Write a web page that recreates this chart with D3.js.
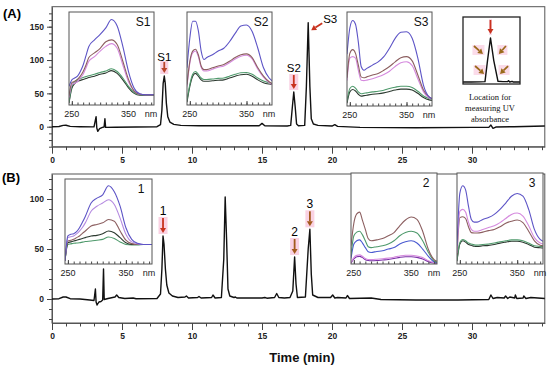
<!DOCTYPE html>
<html>
<head>
<meta charset="utf-8">
<script src="https://cdn.jsdelivr.net/npm/d3@7"></script>
<style>
  body { margin: 0; background: #fff; }
  svg { display: block; }
  text { font-family: "Liberation Sans", Arial, sans-serif; }
  text.serif { font-family: "Liberation Serif", "DejaVu Serif", serif; }
</style>
</head>
<body>
<div id="chart"></div>
<script>
// ---- chromatogram (A): standards, [time min, mAU]
var chromA = [
  [0,0],[0.5,0.3],[0.8,2],[1.0,2.2],[1.3,0.5],[2.0,0],[3.0,-0.3],[3.15,15],[3.2,-2],[3.27,-7],[3.4,-3],[3.6,-1],
  [3.72,-0.5],[3.78,12],[3.83,-1],[4.5,-0.8],[6,-0.5],[7.5,0],[7.75,3],[7.85,25],[7.94,65],[8.02,76],[8.09,65],
  [8.17,35],[8.27,15],[8.42,7],[8.7,3.5],[9.2,2],[10.5,1.5],[14.8,1.5],[15.0,5],[15.2,1.5],[16.8,1],[17.05,2],
  [17.17,30],[17.27,52],[17.37,30],[17.47,4],[17.6,1.5],[18.05,2],[18.17,60],[18.3,156],[18.42,60],[18.52,12],
  [18.67,4],[19,2],[20,1],[20.2,3],[20.4,0.5],[22,-1],[26,-1.5],[30,-1],[31.2,-1],[31.35,2.5],[31.5,-2.5],
  [31.7,-0.5],[33,0],[35.2,1]
];
// ---- chromatogram (B): sample
var chromB = [
  [0,0],[0.5,0.3],[0.8,2],[1.0,2],[1.3,0.3],[2,0],[2.7,-1],[3.0,-1.5],[3.1,10],[3.15,-3],[3.22,-6],[3.35,-3],
  [3.5,-2.5],[3.62,-1],[3.68,30],[3.73,-0.5],[4.0,0.5],[4.5,2],[4.62,4],[4.77,1.5],[5.2,0.5],[5.8,1],[6.0,0.3],
  [7.5,0.5],[7.75,5],[7.85,30],[7.93,63],[8.0,55],[8.1,30],[8.2,14],[8.35,6],[8.6,3],[9.0,1.5],[9.5,2],[9.6,3],
  [9.75,1],[10.4,1.5],[10.5,2.5],[10.65,1],[11.4,1.5],[11.5,4],[11.65,1],[12.1,1.5],[12.27,40],[12.37,102],
  [12.47,60],[12.57,10],[12.7,3],[13.0,1.5],[13.1,2],[13.2,1],[15,1],[15.2,1.5],[15.35,0.8],[15.9,1.5],
  [16.05,5.5],[16.2,1.5],[16.6,1],[17.0,1.5],[17.2,8],[17.33,42],[17.43,15],[17.53,1.5],[18.1,2],[18.3,50],
  [18.42,69.7],[18.52,25],[18.62,4],[19,1.5],[19.9,1.5],[20.05,4],[20.2,1],[20.4,1.5],[21.0,1],[21.1,3.5],
  [21.25,0.5],[22.8,1],[23.5,-0.5],[26,-1],[29,-1],[31.2,-0.5],[31.35,4],[31.5,0.5],[31.8,1.5],[32.3,1],
  [32.4,3],[32.55,0.5],[32.7,2],[33.05,1],[33.1,4],[33.2,0.5],[33.65,1],[33.7,3],[33.85,0.5],[34.2,1.5],[35.2,0.5]
];

// ---- UV spectra (inset units, % of inset height)
var nmGrid = [245,250,255,260,265,270,275,280,290,300,310,320,330,340,350,360,370,380,390,395];

var s1Blue  = [20,27,29,31,36,43,53,63,70,76,83,92,85,63,36,18,12,11,11,11];
var s1Brown = [10,24,25.5,27.5,31,36,43,51,56,61,68,70,65,47,27.5,15,11.5,11,11,11];
var s1Pink  = [8,22,23.5,25,29,33,40,47,52,58,63,66,61,43,25,15,11.5,11,11,11];
var s1Green = [3,20,25,27.5,28.5,29.5,30.5,31.5,33,35,36.5,39,36,29,20,13.5,11,11,11,11];
var s1Black = [2,18,23,25.5,26.5,27.5,28.5,29.5,31,33,34.5,37,34,27,18.5,12.5,10.5,10.5,10.5,10.5];

var s2Blue  = [40,72,90,90,80,58,49,51,54,58,61,68,77,85,86,79,61,40,29,26];
var s2Brown = [22,47,58,60,54,42,38,38,40,42,43.5,47,51,54,55,51,40,31,25,23];
var s2Pink  = [20,45,56,58,52,40.5,36.5,36.5,38.5,40.5,42,45.5,49.5,52.5,53.5,49.5,38.5,30,24,22];
var s2Green = [5,22,33,36,33,29,27.5,27.5,28,28.6,29,31,33,34.6,35,33,29,25.7,24,23];
var s2Black = [3,20,31,34,31,27,25.5,25.5,26,26.6,27,29,31,32.6,33,31,27,24,22.5,22];

var s3Blue  = [55,83,91,87,68,42,38,40,43.5,47,52.5,61.5,72,78.5,79,72,51,22,9.6,8];
var s3Brown = [30,56,60,56,43.5,31,30,31,33,34.6,38,42,47,51.4,52.5,48,33,17,9.6,8];
var s3Pink  = [27,51,52.5,51,38,27.5,27,27.5,29,31,33.6,37,42,46,47,43,29,15,8.6,7.5];
var s3Green = [5,18.6,21,19,15,13,13.5,14,15,15.7,16.8,18.6,20,21,21,19.6,15.7,10.7,7.9,7];
var s3Black = [3,15,17.5,16,12.5,10.5,11,11.5,12.5,13,14,15.5,17,18,18,17,13.5,9,6.5,6];

var p1Blue   = [4,33,35,35.7,38,42.6,49,56,71.7,77.5,81.4,92,85,68,42.6,29,24.4,23,23,23];
var p1Violet = [4,31,32,33,35.5,38.8,43,48.4,62,68,71.7,75.6,70,54,35,26,24,23,23,23];
var p1Brown  = [4,27,28,29,31,33,36,38.8,44.6,46.5,48.4,52.3,50.4,38.8,28,24,23,23,23,23];
var p1Dark   = [4,25,26,27,28,29,30,31,33,33.7,35.7,38.8,36.8,31,25,23,23,23,23,23];
var p1Green  = [4,23,23.7,24.4,24.7,25,25.7,26.4,27,28,29,31.8,30,26,23,22.5,22.5,23,23,23];

var p2Brown  = [20,45,55,57,48,38,28,25.5,26.5,28,31,34.5,42,48.4,51.6,49,36,16,4.7,3];
var p2Green  = [10,31,35,36,32,25.5,19,18,19,20,22,25.5,31,34.5,36,34,25.5,12.7,3.6,2];
var p2Blue   = [6,22,25.5,26.5,23,18,13.5,12.7,13.8,14.5,16.4,18,22,24.4,25.5,23,16.4,8.4,2.5,1.5];
var p2Pink   = [1.5,7,9.5,10,8.5,6,5,5,5.3,5.8,6.5,7.5,8.8,9.6,9.6,8.8,7,3.5,1.5,1];
var p2Purple = [1,5.5,8,8.4,7,4.7,3.8,3.6,3.8,4.4,5,6,7.3,8,8,7.3,5.5,2.5,1,0.5];

var p3Blue  = [20,78,86,81.5,63.6,49,46,46,49,51,54.5,60,67,74.5,77.5,74.5,60,38,27,25];
var p3Pink  = [12,58,60,57,46,38,36,36,38,40,42,45.5,50,54.5,56,52.7,42,29,23,22];
var p3Brown = [10,51,52,50,41,34.5,34,34,35,36.7,38,41,44.7,47,48.4,45.5,36,25.5,20.7,20];
var p3Green = [4,23.6,27,25.5,23,22,21,20.7,21.5,22,23,24.4,25.5,26.5,26.5,25.5,23,20,19.3,19];
var p3Black = [3,22,25.5,24,21.5,20.5,19.5,19.2,20,20.5,21.5,22.9,24,25,25,24,21.5,18.5,17.8,17.5];

// small "location" sketch: [relative time, % height]
var locTrace = [[0,3],[1.5,3],[3.0,3.2],[3.86,3.5],[4.3,35],[4.82,68.7],[5.4,35],[6.14,4],[7.0,3.5],
  [7.8,3.5],[8.0,5],[8.2,3],[8.6,4],[8.8,3],[10,3]];

var timeTicks = [0,5,10,15,20,25,30];
var yTicksA = [0,50,100,150];
var yTicksB = [0,50,100];
var nmTicks = [250,350];
var locText = ["Location for", "measuring UV", "absorbance"];

var peaksA = [{label:"S1", t:8.02, v:76}, {label:"S2", t:17.27, v:52}, {label:"S3", t:18.3, v:156}];
var peaksB = [{label:"1", t:7.93, v:63}, {label:"2", t:17.33, v:42}, {label:"3", t:18.42, v:69.7}];

// ---- colours
var cBlue = "#5d54c6", cBrown = "#8c5f60", cPink = "#d58ade", cGreen = "#4f9a6c", cBlack = "#2c3a30",
    cViolet = "#b58ae0", cPurple = "#7b2fa8", cRed = "#c8321e", cOrange = "#a35a1c", cHi = "#fad2e3";

var W = 550, H = 367;
var svg = d3.select("#chart").append("svg").attr("width", W).attr("height", H);
svg.append("rect").attr("width", W).attr("height", H).attr("fill", "#fff");

var x = d3.scaleLinear().domain([0, 35.2]).range([52, 544.8]);
var yA = d3.scaleLinear().domain([-30, 180]).range([146.7, 6.7]);
var yB = d3.scaleLinear().domain([-24, 125]).range([323, 174]);

var frameCol = "#555";

function drawPanel(y, yTicks, yMinor, data) {
  var g = svg.append("g");
  var y0 = y.range()[0], y1 = y.range()[1];
  g.append("rect").attr("x", x(0)).attr("y", y1).attr("width", x(35.2) - x(0)).attr("height", y0 - y1)
    .attr("fill", "none").attr("stroke", frameCol).attr("stroke-width", 1);

  g.append("g").attr("transform", "translate(0," + y0 + ")")
    .call(d3.axisBottom(x).tickValues(timeTicks).tickSize(7).tickPadding(3).tickSizeOuter(0));
  g.append("g").attr("transform", "translate(0," + y0 + ")")
    .call(d3.axisBottom(x).tickValues(d3.range(0, 36, 1)).tickSize(3.5).tickFormat("")).select(".domain").remove();
  g.append("g").attr("transform", "translate(" + x(0) + ",0)")
    .call(d3.axisLeft(y).tickValues(yTicks).tickSize(5).tickPadding(3).tickSizeOuter(0));
  g.append("g").attr("transform", "translate(" + x(0) + ",0)")
    .call(d3.axisLeft(y).tickValues(yMinor).tickSize(3).tickFormat("")).select(".domain").remove();
  g.selectAll(".domain").attr("stroke", frameCol);
  g.selectAll(".tick line").attr("stroke", "#444");
  g.selectAll(".tick text").attr("font-size", 8.5).attr("font-weight", "bold").attr("fill", "#222");

  var line = d3.line().x(function(d) { return x(d[0]); }).y(function(d) { return y(d[1]); });
  g.append("path").datum(data).attr("d", line).attr("fill", "none").attr("stroke", "#111")
    .attr("stroke-width", 1.4).attr("stroke-linejoin", "round");
  return g;
}

drawPanel(yA, yTicksA, d3.range(-30, 180, 10), chromA);
drawPanel(yB, yTicksB, d3.range(-20, 125, 10), chromB);

function arrow(x1, y1, x2, y2, col) {
  var a = Math.atan2(y2 - y1, x2 - x1), hl = 5, hw = 3;
  var bx = x2 - hl * Math.cos(a), by = y2 - hl * Math.sin(a);
  svg.append("line").attr("x1", x1).attr("y1", y1).attr("x2", bx).attr("y2", by)
    .attr("stroke", col).attr("stroke-width", 1.8);
  svg.append("path").attr("d", "M" + x2 + "," + y2 +
      "L" + (bx + hw * Math.sin(a)) + "," + (by - hw * Math.cos(a)) +
      "L" + (bx - hw * Math.sin(a)) + "," + (by + hw * Math.cos(a)) + "Z").attr("fill", col);
}

function hilite(cx, y0, y1, w) {
  svg.append("rect").attr("x", cx - w / 2).attr("y", y0).attr("width", w).attr("height", y1 - y0)
    .attr("fill", cHi);
}

// peak annotations (A)
hilite(x(peaksA[0].t), yA(peaksA[0].v) - 15, yA(peaksA[0].v) - 2, 8);
hilite(x(peaksA[1].t), yA(peaksA[1].v) - 18, yA(peaksA[1].v) - 2, 9);
svg.append("text").attr("x", x(peaksA[0].t)).attr("y", yA(peaksA[0].v) - 15).attr("text-anchor", "middle")
  .attr("font-size", 11.5).text(peaksA[0].label);
arrow(x(peaksA[0].t), yA(peaksA[0].v) - 14, x(peaksA[0].t), yA(peaksA[0].v) - 3, "#b8442a");
svg.append("text").attr("x", x(peaksA[1].t)).attr("y", yA(peaksA[1].v) - 20).attr("text-anchor", "middle")
  .attr("font-size", 11.5).text(peaksA[1].label);
arrow(x(peaksA[1].t), yA(peaksA[1].v) - 17, x(peaksA[1].t), yA(peaksA[1].v) - 3, cRed);
svg.append("text").attr("x", x(peaksA[2].t) + 22).attr("y", yA(peaksA[2].v)).attr("text-anchor", "middle")
  .attr("font-size", 11.5).text(peaksA[2].label);
arrow(x(peaksA[2].t) + 14, yA(peaksA[2].v) + 0.5, x(peaksA[2].t) + 3, yA(peaksA[2].v) + 7.5, cRed);

// peak annotations (B)
var bCols = [cRed, cOrange, cOrange];
peaksB.forEach(function(p, i) {
  var px = x(p.t), py = yB(p.v);
  hilite(px, py - 19, py - 2, 9);
  svg.append("text").attr("x", px).attr("y", py - 21).attr("text-anchor", "middle")
    .attr("font-size", 12).text(p.label);
  arrow(px, py - 18, px, py - 3, bCols[i]);
});

// ---- insets
function drawInset(box, curves, title) {
  var g = svg.append("g");
  var xs = d3.scaleLinear().domain([245, 395]).range([box.x, box.x + box.w]);
  var ys = d3.scaleLinear().domain([0, 100]).range([box.y + box.h, box.y]);
  g.append("rect").attr("x", box.x).attr("y", box.y).attr("width", box.w).attr("height", box.h)
    .attr("fill", "#fff");
  var id = "clip" + Math.round(box.x) + "_" + Math.round(box.y);
  g.append("clipPath").attr("id", id).append("rect").attr("x", box.x).attr("y", box.y)
    .attr("width", box.w).attr("height", box.h);
  var line = d3.line().x(function(d, i) { return xs(nmGrid[i]); }).y(function(d) { return ys(d); })
    .curve(d3.curveMonotoneX);
  curves.forEach(function(c) {
    g.append("path").datum(c.values).attr("d", line).attr("clip-path", "url(#" + id + ")")
      .attr("fill", "none").attr("stroke", c.color).attr("stroke-width", 1.1);
  });
  g.append("g").attr("transform", "translate(0," + (box.y + box.h) + ")")
    .call(d3.axisTop(xs).tickValues(d3.range(250, 395, 10)).tickSize(2.5).tickFormat(""))
    .select(".domain").remove();
  g.append("g").attr("transform", "translate(0," + (box.y + box.h) + ")")
    .call(d3.axisTop(xs).tickValues(nmTicks).tickSize(4).tickFormat(""))
    .select(".domain").remove();
  g.selectAll(".tick line").attr("stroke", "#444");
  g.append("rect").attr("x", box.x).attr("y", box.y).attr("width", box.w).attr("height", box.h)
    .attr("fill", "none").attr("stroke", frameCol).attr("stroke-width", 1);
  nmTicks.forEach(function(n) {
    g.append("text").attr("x", xs(n)).attr("y", box.y + box.h + 12).attr("text-anchor", "middle")
      .attr("font-size", 9).attr("fill", "#222").text(n);
  });
  g.append("text").attr("x", box.x + box.w - 3).attr("y", box.y + box.h + 12).attr("text-anchor", "middle")
    .attr("font-size", 9).attr("fill", "#222").text("nm");
  g.append("text").attr("x", box.x + box.w - 11).attr("y", box.y + 14).attr("text-anchor", "middle")
    .attr("font-size", 12).attr("fill", "#111").text(title);
}

drawInset({x: 69, y: 12, w: 85, h: 93}, [
  {values: s1Black, color: cBlack}, {values: s1Green, color: cGreen}, {values: s1Pink, color: cPink},
  {values: s1Brown, color: cBrown}, {values: s1Blue, color: cBlue}], "S1");
drawInset({x: 187, y: 12, w: 85, h: 93}, [
  {values: s2Black, color: cBlack}, {values: s2Green, color: cGreen}, {values: s2Pink, color: cPink},
  {values: s2Brown, color: cBrown}, {values: s2Blue, color: cBlue}], "S2");
drawInset({x: 347, y: 12, w: 85, h: 94}, [
  {values: s3Black, color: cBlack}, {values: s3Green, color: cGreen}, {values: s3Pink, color: cPink},
  {values: s3Brown, color: cBrown}, {values: s3Blue, color: cBlue}], "S3");
drawInset({x: 65, y: 179, w: 87, h: 85}, [
  {values: p1Green, color: cGreen}, {values: p1Dark, color: cBlack}, {values: p1Brown, color: cBrown},
  {values: p1Violet, color: cViolet}, {values: p1Blue, color: cBlue}], "1");
drawInset({x: 351, y: 173, w: 86, h: 91}, [
  {values: p2Purple, color: cPurple}, {values: p2Pink, color: cPink}, {values: p2Blue, color: "#4a5ad0"},
  {values: p2Green, color: cGreen}, {values: p2Brown, color: cBrown}], "2");
drawInset({x: 457, y: 173, w: 86, h: 91}, [
  {values: p3Black, color: cBlack}, {values: p3Green, color: cGreen}, {values: p3Brown, color: cBrown},
  {values: p3Pink, color: cPink}, {values: p3Blue, color: cBlue}], "3");

// ---- "location" sketch
var loc = {x: 463, y: 17, w: 57, h: 67};
var lx = d3.scaleLinear().domain([0, 10]).range([loc.x, loc.x + loc.w]);
var ly = d3.scaleLinear().domain([0, 100]).range([loc.y + loc.h, loc.y]);
svg.append("rect").attr("x", loc.x).attr("y", loc.y).attr("width", loc.w).attr("height", loc.h)
  .attr("fill", "#fff");
var locArrows = [
  {t: 4.82, v: 74.6, dx: 0, dy: -14, col: cRed},
  {t: 3.5, v: 44.8, dx: -9, dy: -8, col: "#9a6a1a"},
  {t: 6.3, v: 44.8, dx: 7, dy: -8, col: "#9a6a1a"},
  {t: 3.7, v: 14.9, dx: -9, dy: -8, col: "#9a6a1a"},
  {t: 6.5, v: 14.9, dx: 8, dy: -8, col: "#9a6a1a"}
];
locArrows.forEach(function(a) {
  var hx = lx(a.t), hy = ly(a.v);
  svg.append("rect").attr("x", Math.min(hx, hx + a.dx) - 1.5).attr("y", hy + a.dy - 1)
    .attr("width", Math.abs(a.dx) + 3).attr("height", -a.dy + 2).attr("fill", cHi).attr("opacity", 0.8);
});
svg.append("path").datum(locTrace)
  .attr("d", d3.line().x(function(d) { return lx(d[0]); }).y(function(d) { return ly(d[1]); }))
  .attr("fill", "none").attr("stroke", "#111").attr("stroke-width", 1.4).attr("stroke-linejoin", "round");
locArrows.forEach(function(a) {
  var hx = lx(a.t), hy = ly(a.v);
  arrow(hx + a.dx, hy + a.dy, hx, hy, a.col);
});
svg.append("rect").attr("x", loc.x).attr("y", loc.y).attr("width", loc.w).attr("height", loc.h)
  .attr("fill", "none").attr("stroke", "#222").attr("stroke-width", 1.3);
locText.forEach(function(s, i) {
  svg.append("text").attr("class", "serif").attr("x", 490).attr("y", 99.5 + i * 11)
    .attr("text-anchor", "middle").attr("font-size", 8.5).attr("fill", "#111").text(s);
});

// ---- panel letters and axis title
svg.append("text").attr("x", 3).attr("y", 18).attr("font-size", 13).attr("font-weight", "bold").text("(A)");
svg.append("text").attr("x", 2).attr("y", 182).attr("font-size", 13).attr("font-weight", "bold").text("(B)");
svg.append("text").attr("x", 302).attr("y", 362).attr("text-anchor", "middle").attr("font-size", 13)
  .attr("font-weight", "bold").attr("fill", "#111").text("Time (min)");
</script>
</body>
</html>
